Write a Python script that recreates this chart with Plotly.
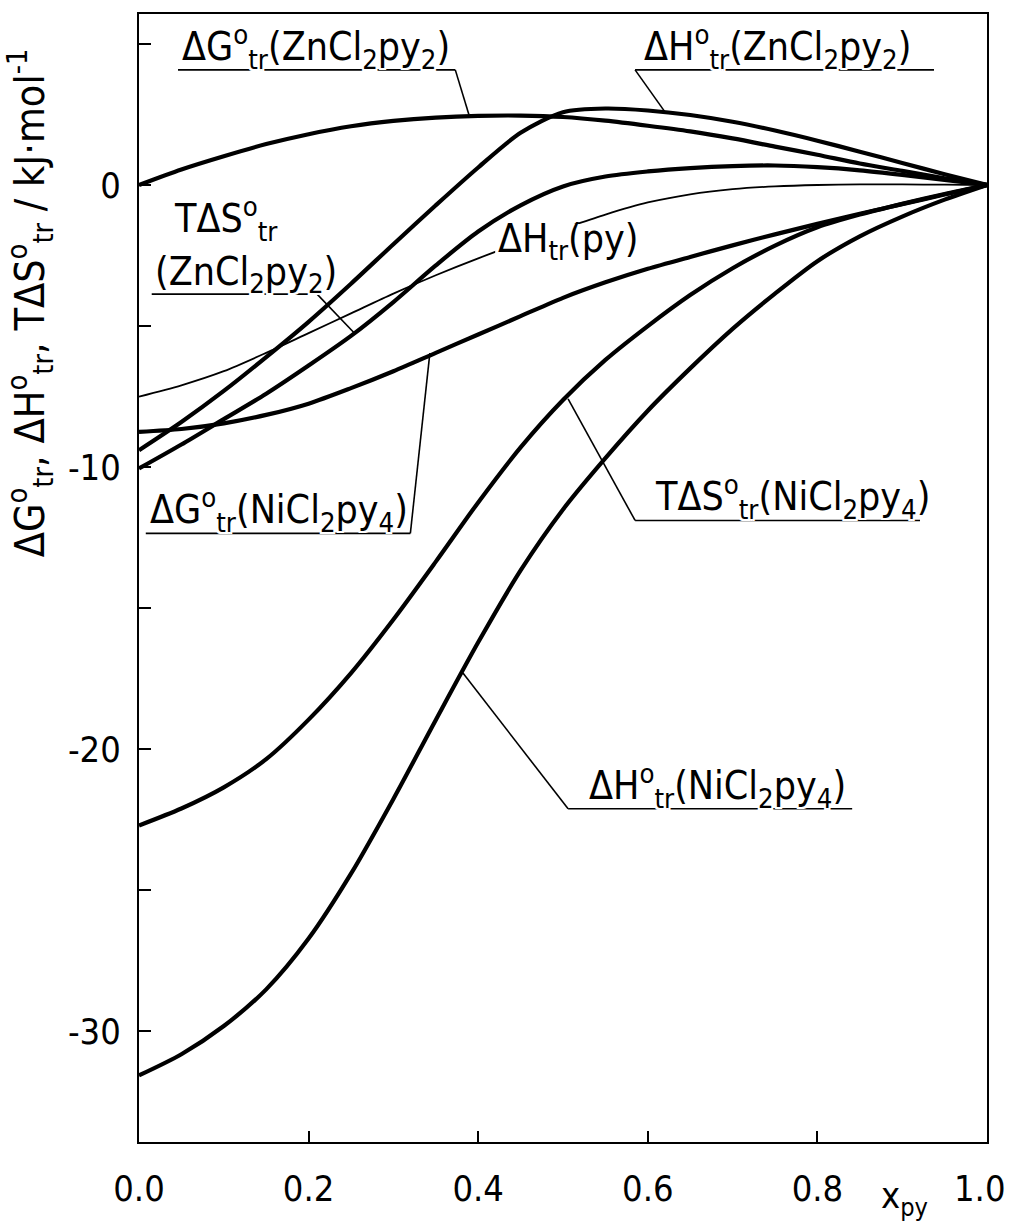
import plotly.graph_objects as go

# ---------------- data ----------------
x_py = [0.00, 0.05, 0.10, 0.15, 0.20, 0.25, 0.30, 0.35, 0.40, 0.45, 0.50,
        0.55, 0.60, 0.65, 0.70, 0.75, 0.80, 0.85, 0.90, 0.95, 1.00]

dG_zn = [0.0, 0.55, 1.02, 1.45, 1.80, 2.08, 2.27, 2.39, 2.45, 2.46, 2.41,
         2.28, 2.10, 1.90, 1.65, 1.36, 1.07, 0.76, 0.50, 0.24, 0.0]

dH_zn = [-9.4, -8.4, -7.3, -6.1, -4.85, -3.5, -2.1, -0.72, 0.62, 1.85, 2.58,
         2.71, 2.64, 2.48, 2.24, 1.93, 1.57, 1.18, 0.78, 0.38, 0.0]

TdS_zn = [-10.05, -9.2, -8.3, -7.4, -6.4, -5.35, -4.15, -2.85, -1.65, -0.72, -0.05,
          0.30, 0.48, 0.60, 0.67, 0.69, 0.63, 0.52, 0.36, 0.18, 0.0]

dH_py = [-7.5, -7.1, -6.6, -5.95, -5.25, -4.55, -3.85, -3.2, -2.6, -2.05, -1.55,
         -1.05, -0.62, -0.33, -0.15, -0.05, 0.0, 0.02, 0.02, 0.01, 0.0]

dG_ni = [-8.75, -8.65, -8.45, -8.15, -7.75, -7.2, -6.6, -5.95, -5.3, -4.65, -4.0,
         -3.45, -2.97, -2.55, -2.14, -1.75, -1.38, -1.02, -0.68, -0.34, 0.0]

TdS_ni = [-22.7, -22.1, -21.35, -20.35, -18.95, -17.3, -15.4, -13.35, -11.25, -9.3, -7.62,
          -6.2, -5.0, -3.9, -2.95, -2.15, -1.5, -1.05, -0.67, -0.32, 0.0]

dH_ni = [-31.56, -30.81, -29.81, -28.51, -26.71, -24.41, -21.76, -18.96, -16.21, -13.66, -11.5,
         -9.68, -8.0, -6.5, -5.1, -3.85, -2.7, -1.82, -1.12, -0.52, 0.0]

x_ticks = [0.0, 0.2, 0.4, 0.6, 0.8, 1.0]
x_ticktext = ["0.0", "0.2", "0.4", "0.6", "0.8", ""]
x_last_label = "1.0"
y_ticks = [-30, -25, -20, -15, -10, -5, 0, 5]
y_ticktext = ["-30", "", "-20", "", "-10", "", "0", ""]

FONT = "Liberation Sans Narrow, DejaVu Sans Condensed, Roboto Condensed, Liberation Sans, sans-serif"
HALO = ("2px 0 0 white, -2px 0 0 white, 0 2px 0 white, 0 -2px 0 white, "
        "2px 2px 0 white, -2px -2px 0 white, 2px -2px 0 white, -2px 2px 0 white")
LBL = 39

fig = go.Figure()

series = [
    (dG_zn, 4.2), (dH_zn, 4.2), (TdS_zn, 4.2), (dH_py, 1.8),
    (dG_ni, 4.2), (TdS_ni, 4.2), (dH_ni, 4.2),
]
for ys, w in series:
    fig.add_trace(go.Scatter(x=x_py, y=ys, mode="lines",
                             line=dict(color="black", width=w, shape="spline", smoothing=0.8),
                             showlegend=False, hoverinfo="skip"))

# ---------------- labels with leader lines ----------------
def seg(x0, y0, x1, y1):
    fig.add_shape(type="line", xref="x", yref="y", x0=x0, y0=y0, x1=x1, y1=y1,
                  line=dict(color="black", width=1.6), layer="above")

def label(text, x, y):
    fig.add_annotation(x=x, y=y, xref="x", yref="y", text=text, showarrow=False,
                       xanchor="left", yanchor="bottom", yshift=-7,
                       font=dict(family=FONT, size=LBL, color="black", shadow=HALO))

D = "\u0394"
# dG Zn
label(f"{D}G<sup>o</sup><sub>tr</sub>(ZnCl<sub>2</sub>py<sub>2</sub>)", 0.048, 4.08)
seg(0.046, 4.08, 0.373, 4.08); seg(0.373, 4.08, 0.389, 2.50)
# dH Zn
label(f"{D}H<sup>o</sup><sub>tr</sub>(ZnCl<sub>2</sub>py<sub>2</sub>)", 0.593, 4.08)
seg(0.585, 4.08, 0.9375, 4.08); seg(0.585, 4.08, 0.620, 2.60)
# TdS Zn
fig.add_annotation(x=0.039, y=-1.22, xref="x", yref="y", showarrow=False,
                   text=f"T{D}S<sup>o</sup><sub>tr</sub>", xanchor="left", yanchor="middle",
                   font=dict(family=FONT, size=LBL, color="black"))
label("(ZnCl<sub>2</sub>py<sub>2</sub>)", 0.017, -3.87)
seg(0.015, -3.87, 0.210, -3.87); seg(0.210, -3.87, 0.255, -5.28)
# dH py: the label sits on its own (thin) curve, which is interrupted there
fig.add_shape(type="rect", xref="x", yref="y", x0=0.42, x1=0.545, y0=-2.75, y1=-1.38,
              fillcolor="white", line=dict(width=0), layer="above")
fig.add_annotation(x=0.421, y=-2.0, xref="x", yref="y", showarrow=False,
                   text=f"{D}H<sub>tr</sub>(py)", xanchor="left", yanchor="middle",
                   font=dict(family=FONT, size=LBL, color="black"))
# dG Ni
label(f"{D}G<sup>o</sup><sub>tr</sub>(NiCl<sub>2</sub>py<sub>4</sub>)", 0.011, -12.35)
seg(0.008, -12.35, 0.320, -12.35); seg(0.320, -12.35, 0.343, -5.96)
# TdS Ni
label(f"T{D}S<sup>o</sup><sub>tr</sub>(NiCl<sub>2</sub>py<sub>4</sub>)", 0.606, -11.89)
seg(0.585, -11.89, 0.921, -11.89); seg(0.585, -11.89, 0.506, -7.58)
# dH Ni
label(f"{D}H<sup>o</sup><sub>tr</sub>(NiCl<sub>2</sub>py<sub>4</sub>)", 0.528, -22.11)
seg(0.506, -22.11, 0.841, -22.11); seg(0.506, -22.11, 0.382, -17.3)

# axis titles as annotations
fig.add_annotation(x=-0.1285, y=0.7436, xref="paper", yref="paper", showarrow=False,
                   xanchor="center", yanchor="middle", textangle=-90,
                   text=(f"{D}G<sup>o</sup><sub>tr</sub>, {D}H<sup>o</sup><sub>tr</sub>, "
                         f"T{D}S<sup>o</sup><sub>tr</sub> / kJ\u00b7mol<sup>-1</sup>"),
                   font=dict(family=FONT, size=41, color="black"))
fig.add_annotation(x=0.903, y=-0.050, xref="paper", yref="paper", showarrow=False,
                   xanchor="center", yanchor="middle",
                   text="x<sub>py</sub>", font=dict(family=FONT, size=36, color="black"))
# last x tick label, kept inside the page width
fig.add_annotation(x=1.0, y=-0.0416, xref="paper", yref="paper", showarrow=False,
                   xanchor="right", yanchor="middle", xshift=21,
                   text=x_last_label, font=dict(family=FONT, size=36, color="black"))

fig.update_layout(
    width=1011, height=1221,
    margin=dict(l=139, r=24, t=12, b=78),
    paper_bgcolor="white", plot_bgcolor="white",
    showlegend=False,
    xaxis=dict(range=[0, 1], tickvals=x_ticks, ticktext=x_ticktext,
               ticks="inside", ticklen=11, tickwidth=2, tickcolor="black",
               ticklabelstandoff=14,
               showline=True, linecolor="black", linewidth=2, mirror=True,
               showgrid=False, zeroline=False,
               tickfont=dict(family=FONT, size=36, color="black")),
    yaxis=dict(range=[-33.92, 6.06], tickvals=y_ticks, ticktext=y_ticktext,
               ticks="inside", ticklen=12, tickwidth=2, tickcolor="black",
               ticklabelstandoff=9,
               showline=True, linecolor="black", linewidth=2, mirror=True,
               showgrid=False, zeroline=False,
               tickfont=dict(family=FONT, size=36, color="black")),
)

fig.write_html("out.html", config={"displayModeBar": False},
               post_script="document.body.style.margin='0';document.body.style.overflow='hidden';")
